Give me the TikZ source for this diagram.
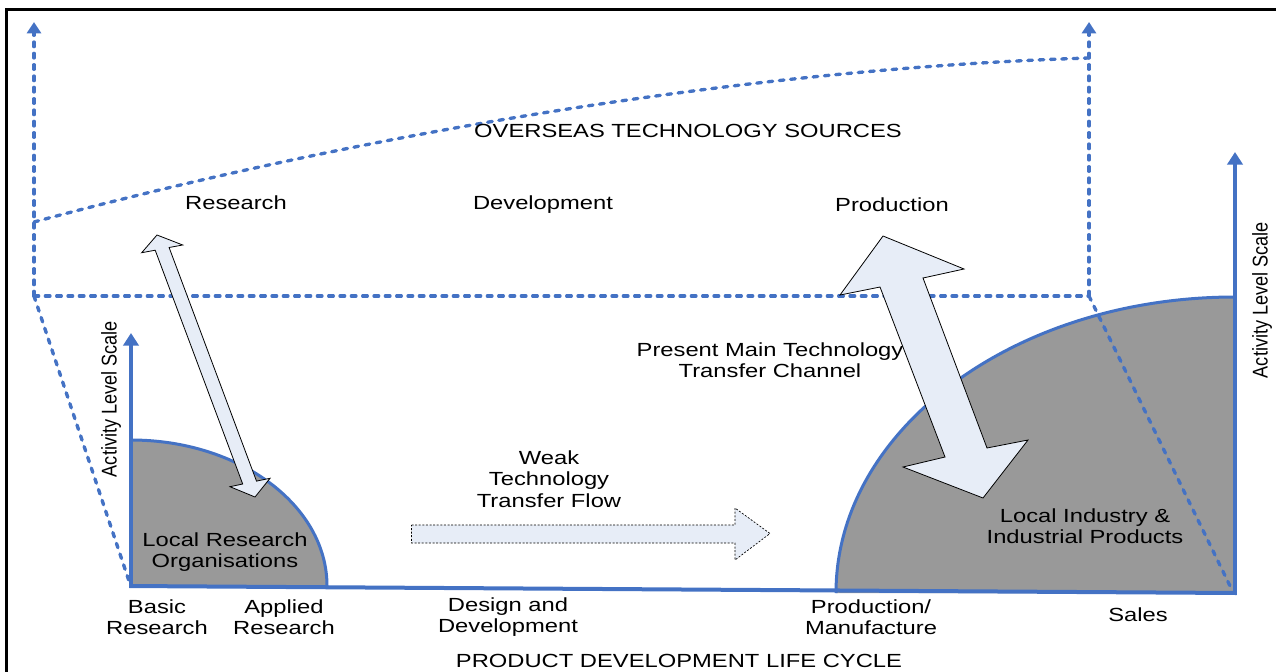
\documentclass[tikz,border=0pt]{standalone}
\usepackage{fontspec}
\setmainfont{Liberation Sans}[FakeStretch=1.25]
\newfontfamily\narrowfont{Liberation Sans}[FakeStretch=0.85]
\usetikzlibrary{arrows.meta}
\definecolor{ablue}{RGB}{68,114,196}
\definecolor{agray}{RGB}{153,153,153}
\definecolor{afill}{RGB}{231,237,247}
\begin{document}
\begin{tikzpicture}[x=0.75pt,y=-0.75pt,
  lbl/.style={font=\fontsize{14.25}{16.1}\selectfont, align=center, inner sep=0pt},
  vlbl/.style={font=\narrowfont\fontsize{16}{18}\selectfont, rotate=90, inner sep=0pt},
  axisline/.style={draw=ablue, line width=3pt, -{Triangle[width=11.5pt,length=9.5pt]}},
  baseline/.style={draw=ablue, line width=3pt},
  arcline/.style={draw=ablue, line width=2.25pt},
  dashline/.style={draw=ablue, line width=2.5pt, line cap=round, dash pattern=on 3.5pt off 5pt},
  dasharrow/.style={dashline, -{Triangle[width=10.5pt,length=8.5pt]}},
  flowarrow/.style={fill=afill, draw=black, line width=0.6pt, line join=miter},
  weakarrow/.style={fill=afill, draw=black, line width=0.5pt, dash pattern=on 1.5pt off 1.2pt},
  frameline/.style={draw=black, line width=2.25pt}
]
\useasboundingbox (0,0) rectangle (1276,671);
% frame
\draw[frameline] (6.5,680) -- (6.5,9) -- (1290,9);

% coordinates
\coordinate (lo) at (131,586);
\coordinate (ro) at (1235,593);
\coordinate (ltop) at (131,440);
\coordinate (rtop) at (1235,297);

% gray regions
\fill[agray] (lo) -- (ltop) arc[start angle=-90, end angle=0, x radius=196, y radius=146] -- cycle;
\draw[arcline] (ltop) arc[start angle=-90, end angle=0, x radius=196, y radius=146];
\fill[agray] (ro) -- (rtop) arc[start angle=-90, end angle=-180, x radius=399, y radius=296] -- cycle;
\draw[arcline] (rtop) arc[start angle=-90, end angle=-180, x radius=399, y radius=296];

% overseas dashed structure
\coordinate (dl0) at (34,296);
\coordinate (dl1) at (34,22);
\coordinate (dr0) at (1089,296);
\coordinate (dr1) at (1089,22);
\coordinate (cs) at (34,222);
\coordinate (ce) at (1089,58);
\coordinate (sl) at (130,584);
\coordinate (sr) at (1232,590);
\draw[dasharrow] (dl0) -- (dl1);
\draw[dasharrow] (dr0) -- (dr1);
\draw[dashline] (dl0) -- (dr0);
\draw[dashline] (cs) .. controls (300,150) and (700,70) .. (ce);
\draw[dashline] (dl0) -- (sl);
\draw[dashline] (dr0) -- (sr);

% axes
\coordinate (lax) at (131,333);
\coordinate (rax) at (1235,152);
\draw[baseline] (129.5,586) -- (1236.5,593);
\draw[axisline] (131,587.5) -- (lax);
\draw[axisline] (1235,594.5) -- (rax);

% thin double arrow
\draw[flowarrow] (157,235) -- (182.7,245) -- (169.1,247.5) -- (256.5,481.1) -- (270,478.3)
  -- (255,497) -- (230,486.7) -- (242.7,484) -- (155.2,250.2) -- (141.7,252.7) -- cycle;

% big double arrow
\draw[flowarrow] (883,236) -- (964,269) -- (923,278) -- (987,448) -- (1028,440)
  -- (983,498) -- (903,467) -- (945,457) -- (880,287) -- (840,295) -- cycle;

% weak flow arrow
\draw[weakarrow] (411.5,525) -- (735,525) -- (735,508) -- (770,533.5) -- (735,560)
  -- (735,543) -- (411.5,543) -- cycle;

% texts
\node[lbl] (ots) at (688,131) {OVERSEAS TECHNOLOGY SOURCES};
\node[lbl] (tres) at (236,203) {Research};
\node[lbl] (tdev) at (543,205) {Development};
\node[lbl] (tprod) at (892,205) {Production};
\node[lbl] (weak) at (549,479) {Weak\\Technology\\Transfer Flow};
\node[lbl] (main) at (770,360) {Present Main Technology\\Transfer Channel};
\node[lbl] (lro) at (225,552) {Local Research\\Organisations};
\node[lbl] (lip) at (1085,526) {Local Industry \&\\Industrial Products};
\node[lbl] (bbr) at (157,617) {Basic\\Research};
\node[lbl] (bar) at (284,617) {Applied\\Research};
\node[lbl] (bdd) at (508,617) {Design and\\Development};
\node[lbl] (bpm) at (871,617) {Production/\\Manufacture};
\node[lbl] (bsa) at (1138,615) {Sales};
\node[lbl] (plc) at (679,661) {PRODUCT DEVELOPMENT LIFE CYCLE};
\node[vlbl] (vl) at (111,399) {Activity Level Scale};
\node[vlbl] (vr) at (1262,300) {Activity Level Scale};
\end{tikzpicture}
\end{document}
